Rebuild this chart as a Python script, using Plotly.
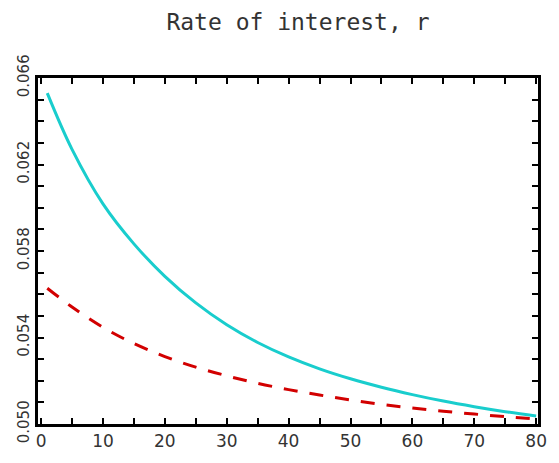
import plotly.graph_objects as go

# Data
t = [1, 5, 10, 15, 20, 25, 30, 35, 40, 45, 50, 55, 60, 65, 70, 75, 80]
r_solid = [0.06530, 0.06270, 0.06018, 0.05833, 0.05683, 0.05560, 0.05459, 0.05377,
           0.05310, 0.05255, 0.05209, 0.05170, 0.05136, 0.05106, 0.05080, 0.05057, 0.05037]
r_dashed = [0.05628, 0.05541, 0.05447, 0.05372, 0.05312, 0.05263, 0.05223, 0.05188,
            0.05159, 0.05134, 0.05111, 0.05091, 0.05074, 0.05059, 0.05046, 0.05034, 0.05023]

x_ticks = list(range(0, 81, 5))
x_labels = [str(v) if v % 10 == 0 else "" for v in x_ticks]
y_ticks = [round(0.050 + 0.001 * i, 3) for i in range(17)]
y_labels = [f"{v:.3f}" if i % 4 == 0 else "" for i, v in enumerate(y_ticks)]

fig = go.Figure()
fig.add_trace(go.Scatter(x=t, y=r_solid, mode="lines", line_shape="spline",
                         line=dict(color="rgb(25,205,205)", width=3)))
fig.add_trace(go.Scatter(x=t, y=r_dashed, mode="lines", line_shape="spline",
                         line=dict(color="rgb(210,0,0)", width=3, dash="14px,12px")))

fig.update_layout(
    width=559, height=463,
    margin=dict(l=38, r=13, t=78, b=21),
    paper_bgcolor="white", plot_bgcolor="white",
    showlegend=False,
    title=dict(text="Rate of interest, r", x=0.533, xanchor="center", y=0.952, yanchor="middle",
               font=dict(family="DejaVu Sans Mono", size=23, color="#333333")),
    font=dict(family="DejaVu Sans", color="#333333"),
)
fig.update_xaxes(range=[-0.5, 80.3], tickmode="array", tickvals=x_ticks, ticktext=x_labels,
                 ticks="inside", ticklen=6, tickwidth=2, tickcolor="black",
                 showline=True, linecolor="black", linewidth=3, mirror="allticks",
                 showgrid=False, zeroline=False,
                 tickfont=dict(family="DejaVu Sans", size=17, color="#333333"))
fig.update_yaxes(range=[0.050, 0.066], tickmode="array", tickvals=y_ticks, ticktext=y_labels,
                 ticks="inside", ticklen=6, tickwidth=2, tickcolor="black", tickangle=-90,
                 showline=True, linecolor="black", linewidth=3, mirror="allticks",
                 showgrid=False, zeroline=False,
                 tickfont=dict(family="DejaVu Sans", size=15, color="#333333"))

fig.write_html("out.html")
